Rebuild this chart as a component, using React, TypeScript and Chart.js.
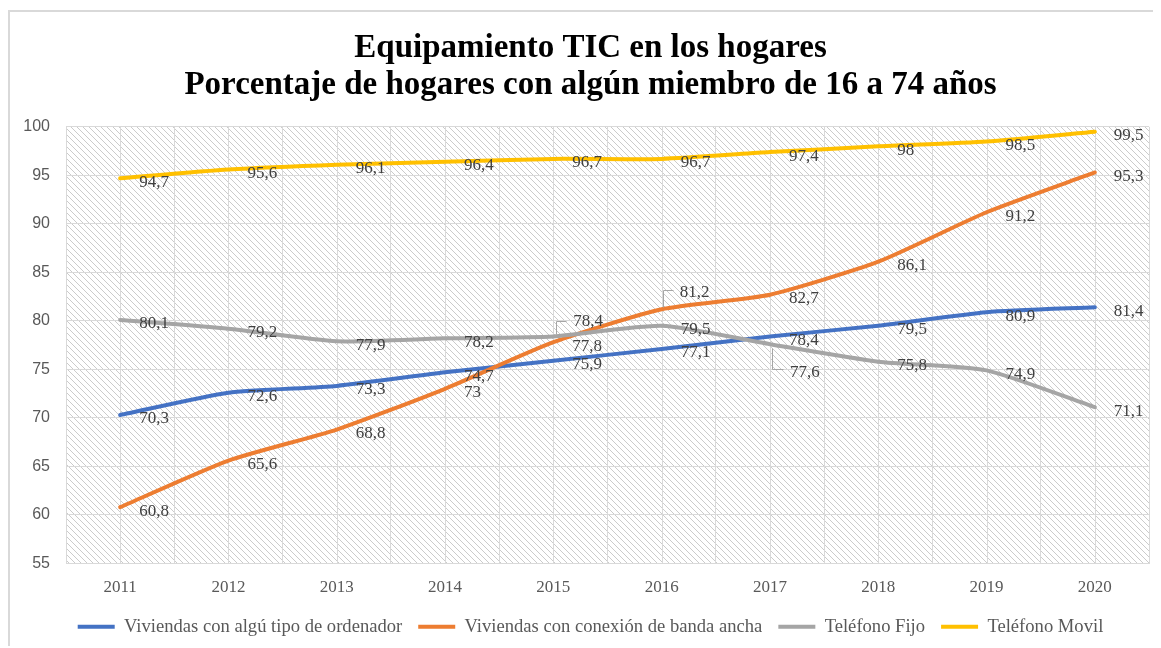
import React, { useEffect, useRef } from 'react';
import { Chart, registerables } from 'chart.js';

Chart.register(...registerables);

const years = ['2011', '2012', '2013', '2014', '2015', '2016', '2017', '2018', '2019', '2020'];
const ordenador = [70.3, 72.6, 73.3, 74.7, 75.9, 77.1, 78.4, 79.5, 80.9, 81.4];
const bandaAncha = [60.8, 65.6, 68.8, 73, 77.8, 81.2, 82.7, 86.1, 91.2, 95.3];
const telefonoFijo = [80.1, 79.2, 77.9, 78.2, 78.4, 79.5, 77.6, 75.8, 74.9, 71.1];
const telefonoMovil = [94.7, 95.6, 96.1, 96.4, 96.7, 96.7, 97.4, 98, 98.5, 99.5];
const seriesNames = [
  'Viviendas con algú tipo de ordenador',
  'Viviendas con conexión de banda ancha',
  'Teléfono Fijo',
  'Teléfono Movil',
];
const seriesColors = ['#4472C4', '#ED7D31', '#A5A5A5', '#FFC000'];
const titleLines = ['Equipamiento TIC en los hogares', 'Porcentaje de hogares con algún miembro de 16 a 74 años'];
const yMin = 55;
const yMax = 100;
const yStep = 5;

// label placement (offsets from the point) for labels that Excel moved, with leader lines
const defaultLabelOffset = { dx: 19, dy: 4 };
const movedLabels: Record<string, { dx: number; dy: number; leader: number[][] }> = {
  '2-4': { dx: 20, dy: -15, leader: [[3, -2], [3, -15], [13, -15]] },
  '1-5': { dx: 18, dy: -17, leader: [[1, -2], [1, -19], [11, -19]] },
  '2-6': { dx: 20, dy: 28, leader: [[2, 4], [2, 25], [13, 25]] },
};

const fmt = (v: number) => String(v).replace('.', ',');

// the title and legend of the original are centred on a slightly wider box than the plot
const headerShift = 11;

const shiftPlugin = {
  id: 'shiftHeader',
  afterLayout(chart: any) {
    [chart.titleBlock, chart.legend].forEach((b: any) => {
      if (b) {
        b.left += headerShift;
        b.right += headerShift;
      }
    });
  },
};

const hatchPlugin = {
  id: 'hatchBg',
  beforeDraw(chart: any) {
    const { ctx, chartArea: a } = chart;
    const tile = document.createElement('canvas');
    tile.width = 6;
    tile.height = 6;
    const t = tile.getContext('2d')!;
    t.fillStyle = '#ffffff';
    t.fillRect(0, 0, 6, 6);
    t.strokeStyle = '#cbcbcb';
    t.lineWidth = 1;
    t.beginPath();
    t.moveTo(-1, -1);
    t.lineTo(7, 7);
    t.moveTo(5, -1);
    t.lineTo(7, 1);
    t.moveTo(-1, 5);
    t.lineTo(1, 7);
    t.stroke();
    const pat = ctx.createPattern(tile, 'repeat');
    ctx.save();
    ctx.fillStyle = pat;
    ctx.fillRect(a.left, a.top, a.width, a.height);
    ctx.restore();
  },
};

const centerGridPlugin = {
  id: 'centerGrid',
  beforeDatasetsDraw(chart: any) {
    const { ctx, chartArea: a, scales } = chart;
    const xs = scales.x;
    ctx.save();
    ctx.strokeStyle = '#d9d9d9';
    ctx.lineWidth = 1;
    ctx.beginPath();
    for (let i = 0; i < years.length; i++) {
      const x = Math.round(xs.getPixelForValue(i)) + 0.5;
      ctx.moveTo(x, a.top);
      ctx.lineTo(x, a.bottom);
    }
    ctx.stroke();
    ctx.restore();
  },
};

const labelPlugin = {
  id: 'valueLabels',
  afterDatasetsDraw(chart: any) {
    const { ctx } = chart;
    ctx.save();
    ctx.font = '17px "Liberation Serif", "Times New Roman", serif';
    ctx.fillStyle = '#404040';
    ctx.textAlign = 'left';
    ctx.textBaseline = 'middle';
    chart.data.datasets.forEach((ds: any, di: number) => {
      const meta = chart.getDatasetMeta(di);
      meta.data.forEach((pt: any, i: number) => {
        const key = `${di}-${i}`;
        const moved = movedLabels[key];
        const off = moved || defaultLabelOffset;
        if (moved) {
          ctx.save();
          ctx.strokeStyle = '#a6a6a6';
          ctx.lineWidth = 1;
          ctx.beginPath();
          moved.leader.forEach((p, k) => {
            const px = Math.round(pt.x + p[0]) + 0.5;
            const py = Math.round(pt.y + p[1]) + 0.5;
            if (k === 0) ctx.moveTo(px, py);
            else ctx.lineTo(px, py);
          });
          ctx.stroke();
          ctx.restore();
        }
        ctx.fillText(fmt(ds.data[i]), pt.x + off.dx, pt.y + off.dy);
      });
    });
    ctx.restore();
  },
};

export default function App() {
  const ref = useRef<HTMLCanvasElement>(null);
  useEffect(() => {
    if (!ref.current) return;
    const seriesData = [ordenador, bandaAncha, telefonoFijo, telefonoMovil];
    const chart = new Chart(ref.current, {
      type: 'line',
      data: {
        labels: years,
        datasets: seriesData.map((d, i) => ({
          label: seriesNames[i],
          data: d,
          borderColor: seriesColors[i],
          backgroundColor: seriesColors[i],
          borderWidth: 4,
          pointRadius: 0,
          pointHoverRadius: 0,
          tension: 0.2,
          borderCapStyle: 'round' as const,
          borderJoinStyle: 'round' as const,
          order: seriesData.length - 1 - i,
        })),
      },
      options: {
        animation: false,
        responsive: false,
        events: [],
        layout: { padding: { top: 0, left: 0, right: 4, bottom: 2 } },
        plugins: {
          title: {
            display: true,
            text: titleLines,
            color: '#000000',
            font: { family: '"Liberation Serif", "Times New Roman", serif', size: 33, weight: 'bold', lineHeight: 1.15 },
            padding: { top: 17, bottom: 22 },
          },
          legend: {
            position: 'bottom',
            labels: {
              boxWidth: 37,
              boxHeight: 4,
              padding: 16,
              color: '#595959',
              font: { family: '"Liberation Serif", "Times New Roman", serif', size: 18.6 },
              sort: (a: any, b: any) => a.datasetIndex - b.datasetIndex,
              generateLabels: (c: any) =>
                Chart.defaults.plugins.legend.labels.generateLabels(c).map((l: any) => ({ ...l, lineWidth: 0 })),
            },
          },
          tooltip: { enabled: false },
        },
        scales: {
          x: {
            offset: true,
            grid: { offset: true, color: '#d9d9d9', drawTicks: false },
            border: { color: '#d9d9d9' },
            ticks: {
              color: '#595959',
              padding: 14,
              font: { family: '"Liberation Serif", "Times New Roman", serif', size: 17 },
              maxRotation: 0,
            },
            afterFit: (s: any) => {
              s.height = 38;
            },
          },
          y: {
            min: yMin,
            max: yMax,
            grid: { color: '#d9d9d9', drawTicks: false },
            border: { color: '#d9d9d9' },
            ticks: {
              stepSize: yStep,
              color: '#595959',
              padding: 16,
              font: { family: '"Liberation Sans", Arial, sans-serif', size: 16 },
            },
            afterFit: (s: any) => {
              s.width = 56;
            },
          },
        },
      },
      plugins: [shiftPlugin, hatchPlugin, centerGridPlugin, labelPlugin],
    });
    return () => chart.destroy();
  }, []);

  return (
    <div
      style={{
        position: 'relative',
        top: 2,
        width: 1145,
        height: 638,
        boxSizing: 'border-box',
        borderTop: '2px solid #d9d9d9',
        borderLeft: '2px solid #d9d9d9',
        overflow: 'hidden',
      }}
    >
      <canvas ref={ref} width={1143} height={636} style={{ display: 'block' }} />
    </div>
  );
}
